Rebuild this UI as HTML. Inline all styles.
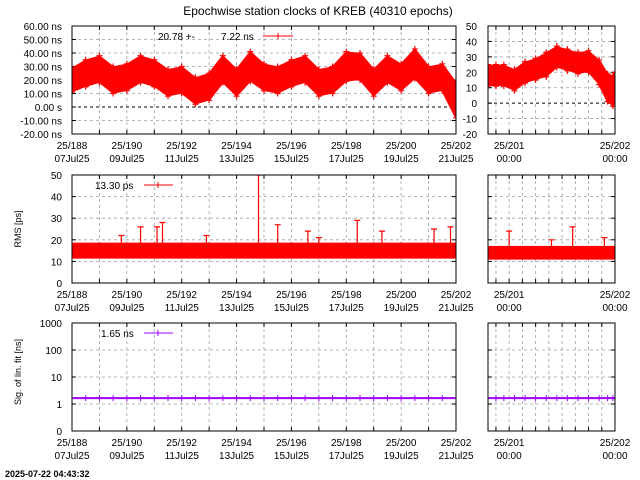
<!DOCTYPE html>
<html><head><meta charset="utf-8"><style>
body{margin:0;background:#fff}
svg{display:block;font-family:"Liberation Sans",sans-serif}
</style></head><body>
<svg id="c" width="640" height="480" viewBox="0 0 640 480"></svg>
<script>
// ---- data ----
const clkDaysL=[188,188.5,189,189.5,190,190.5,191,191.5,192,192.5,193,193.5,194,194.5,195,195.5,196,196.5,197,197.5,198,198.5,199,199.5,200,200.5,201,201.5,202];
const clkMidL=[20,25,28,20,22,28,25,18,20,12,15,28,18,30,22,20,25,28,18,20,30,30,18,28,22,32,20,22,5];
const clkHalfL=[8,9,9,9,9,9,9,9,9,9,9,9,9,10,9,9,9,9,9,9,10,9,9,9,9,10,9,9,12];
const clkDaysR=[200.8,200.875,200.95,201.05,201.15,201.25,201.35,201.45,201.55,201.65,201.75,201.85,201.93,201.98,202];
const clkMidR=[18,18,18,15,20,22,25,30,28,26,27,20,10,8,12];
const clkHalfR=[6,6,6,6,6,6,7,6,6,6,6,7,8,9,7];
const rmsMid=15, rmsHalf=3;
const rmsSpikeDays=[189.8,190.5,191.1,191.3,192.9,194.8,195.5,196.6,197.0,198.4,199.3,201.2,201.8];
const rmsSpikeVals=[22,26,26,28,22,50,27,24,21,29,24,25,26];
const rmsSpikeDaysR=[201.0,201.4,201.6,201.9];
const rmsSpikeValsR=[24,20,26,21];
const sigMid=1.65;
const yTicksClk=[60,50,40,30,20,10,0,-10,-20];
const yLabelsClk=["60.00 ns","50.00 ns","40.00 ns","30.00 ns","20.00 ns","10.00 ns","0.00  s","-10.00 ns","-20.00 ns"];
const yTicksClkR=[50,40,30,20,10,0,-10,-20];
const yTicksRms=[0,10,20,30,40,50];
const yTicksSig=[1000,100,10,1,0.1];
const yLabelsSig=["1000","100","10","1","0"];
const xDayLabels=[188,190,192,194,196,198,200,202];
const xDateLabels=["07Jul25","09Jul25","11Jul25","13Jul25","15Jul25","17Jul25","19Jul25","21Jul25"];

const NS="http://www.w3.org/2000/svg";
const svg=document.getElementById('c');
function mk(tag,at,parent,txt){const e=document.createElementNS(NS,tag);for(const k in at)e.setAttribute(k,at[k]);if(txt!==undefined)e.textContent=txt;(parent||svg).appendChild(e);return e;}
function txt(x,y,s,anchor,name,size){const t=mk('text',{x:x,y:y,'font-size':size||10,'text-anchor':anchor||'middle',fill:'#000'},svg,s);


return t;}

function panel(p){
  const g=mk('g',{});
  
  
  const sx=d=>p.x0+(d-p.d0)/(p.d1-p.d0)*(p.x1-p.x0);
  const sy=p.log?(v=>p.y1-(Math.log10(Math.max(v,1e-9))-p.v0)/(p.v1-p.v0)*(p.y1-p.y0)):(v=>p.y1-(v-p.v0)/(p.v1-p.v0)*(p.y1-p.y0));
  for(const d of p.xgrid){const x=sx(d);mk('line',{x1:x,x2:x,y1:p.y0,y2:p.y1,stroke:'#a0a0a0','stroke-dasharray':'3,3','stroke-width':0.8},g);
    mk('line',{x1:x,x2:x,y1:p.y1,y2:p.y1-4,stroke:'#000'},g);mk('line',{x1:x,x2:x,y1:p.y0,y2:p.y0+4,stroke:'#000'},g);}
  for(const v of p.ygrid){const y=sy(v);mk('line',{x1:p.x0,x2:p.x1,y1:y,y2:y,stroke:(p.zero&&v===0)?'#000':'#a0a0a0','stroke-dasharray':'3,3','stroke-width':(p.zero&&v===0)?1:0.8},g);
    mk('line',{x1:p.x0,x2:p.x0+4,y1:y,y2:y,stroke:'#000'},g);mk('line',{x1:p.x1,x2:p.x1-4,y1:y,y2:y,stroke:'#000'},g);}
  const clip='cl'+p.name;const cp=mk('clipPath',{id:clip},g);mk('rect',{x:p.x0,y:p.y0,width:p.x1-p.x0,height:p.y1-p.y0},cp);
  const dg=mk('g',{'clip-path':'url(#'+clip+')'},g);
  p.draw(dg,sx,sy);
  mk('rect',{x:p.x0,y:p.y0,width:p.x1-p.x0,height:p.y1-p.y0,fill:'none',stroke:'#000','stroke-width':1},g);
  return {sx,sy};
}
function band(g,sx,sy,days,mid,half,col,name,mark){
  let up=[],lo=[];
  for(let i=0;i<days.length;i++){up.push(sx(days[i])+','+sy(mid[i]+half[i]));lo.unshift(sx(days[i])+','+sy(mid[i]-half[i]));}
  const pg=mk('polygon',{points:up.concat(lo).join(' '),fill:col,stroke:col,'stroke-width':3},g);
  
  
  if(!mark)return;
  for(let i=0;i<days.length;i++){for(const v of [mid[i]+half[i]+1,mid[i]-half[i]-1]){const x=sx(days[i]),y=sy(v);
    const c=mk('path',{d:`M${x-3},${y}H${x+3}M${x},${y-3}V${y+3}`,stroke:col,'stroke-width':1.2},g);
    
    }}
}
function spikes(g,sx,sy,days,vals,base,col){
  for(let i=0;i<days.length;i++){const x=sx(days[i]),y=sy(vals[i]);
    const l=mk('path',{d:`M${x},${sy(base)}V${y}M${x-3},${y}H${x+3}`,stroke:col,'stroke-width':1.2},g);
    
    }
}
const dayGrid=[];for(let d=188;d<=202;d++)dayGrid.push(d);
const hrGrid=[];for(let d=200.875;d<=202.001;d+=0.125)hrGrid.push(d);
const L={x0:72,x1:456,d0:188,d1:202}, R={x0:488,x1:615,d0:200.8,d1:202};

txt(318,15,"Epochwise station clocks of KREB (40310 epochs)",'middle','chart-title',12);

panel(Object.assign({},L,{name:'clock-panel-left',y0:26,y1:134,v0:-20,v1:60,xgrid:dayGrid,ygrid:yTicksClk,zero:true,
  draw:(g,sx,sy)=>band(g,sx,sy,clkDaysL,clkMidL,clkHalfL,'#ff0000','clock-series-left',true)}));
panel(Object.assign({},R,{name:'clock-panel-right',y0:26,y1:134,v0:-20,v1:50,xgrid:hrGrid,ygrid:yTicksClkR,zero:true,
  draw:(g,sx,sy)=>band(g,sx,sy,clkDaysR,clkMidR,clkHalfR,'#ff0000','clock-series-right',true)}));
panel(Object.assign({},L,{name:'rms-panel-left',y0:175,y1:283,v0:0,v1:50,xgrid:dayGrid,ygrid:yTicksRms,
  draw:(g,sx,sy)=>{band(g,sx,sy,clkDaysL,clkDaysL.map(()=>rmsMid),clkDaysL.map(()=>rmsHalf),'#ff0000','rms-series-left',false);spikes(g,sx,sy,rmsSpikeDays,rmsSpikeVals,rmsMid,'#ff0000');}}));
panel(Object.assign({},R,{name:'rms-panel-right',y0:175,y1:283,v0:0,v1:50,xgrid:hrGrid,ygrid:yTicksRms,
  draw:(g,sx,sy)=>{band(g,sx,sy,clkDaysR,clkDaysR.map(()=>rmsMid-1),clkDaysR.map(()=>2.5),'#ff0000','rms-series-right',false);spikes(g,sx,sy,rmsSpikeDaysR,rmsSpikeValsR,rmsMid,'#ff0000');}}));
function sigDraw(days){return (g,sx,sy)=>{const pl=mk('path',{d:'M'+days.map(d=>sx(d)+','+sy(sigMid)).join('L'),stroke:'#a000ff','stroke-width':2,fill:'none'},g);
  
  
  for(const d of days){const x=sx(d),y=sy(sigMid);mk('path',{d:`M${x},${y-3}V${y+3}`,stroke:'#a000ff'},g);}};}
panel(Object.assign({},L,{name:'sigma-panel-left',y0:323,y1:431,v0:-1,v1:3,log:true,xgrid:dayGrid,ygrid:yTicksSig,draw:sigDraw(clkDaysL)}));
panel(Object.assign({},R,{name:'sigma-panel-right',y0:323,y1:431,v0:-1,v1:3,log:true,xgrid:hrGrid,ygrid:yTicksSig,draw:sigDraw(clkDaysR)}));

yTicksClk.forEach((v,i)=>txt(62,134-(v+20)/80*108+4,yLabelsClk[i],'end','y-tick-clock'));
yTicksClkR.forEach(v=>txt(477,134-(v+20)/70*108+4,String(v),'end','y-tick-clock-right'));
yTicksRms.forEach(v=>txt(62,283-v/50*108+4,String(v),'end','y-tick-rms'));
yTicksSig.forEach((v,i)=>txt(62,431-(Math.log10(v)+1)/4*108+4,yLabelsSig[i],'end','y-tick-sigma'));
mk('text',{x:0,y:0,'font-size':9,'text-anchor':'middle',transform:'translate(21,229) rotate(-90)'},svg,'RMS [ps]');
mk('text',{x:0,y:0,'font-size':9,'text-anchor':'middle',transform:'translate(21,372) rotate(-90)'},svg,'Sig. of lin. fit [ns]');

for(const yb of [134,283,431]){
  xDayLabels.forEach((d,i)=>{const x=72+(d-188)/14*384;txt(x,yb+15,'25/'+d,'middle','x-tick-day');txt(x,yb+28,xDateLabels[i],'middle','x-tick-date');});
  for(const d of [201,202]){const x=488+(d-200.8)/1.2*127;txt(x,yb+15,'25/'+d,'middle','x-tick-day-right');txt(x,yb+28,'00:00','middle','x-tick-time-right');}
}
txt(158,40,'20.78 +-','start','legend-clock-mean');txt(221,40,'7.22 ns','start','legend-clock-sigma');
mk('path',{d:'M263,36H293M278,33V39',stroke:'#ff0000'},svg);
txt(95,189,'13.30 ps','start','legend-rms');
mk('path',{d:'M144,185H173M158,182V188',stroke:'#ff0000'},svg);
txt(101,337,'1.65 ns','start','legend-sigma');
mk('path',{d:'M144,333H173M158,330V336',stroke:'#a000ff'},svg);
const ts=txt(5,477,'2025-07-22 04:43:32','start','timestamp',9);ts.setAttribute('font-weight','bold');
</script>
</body></html>
